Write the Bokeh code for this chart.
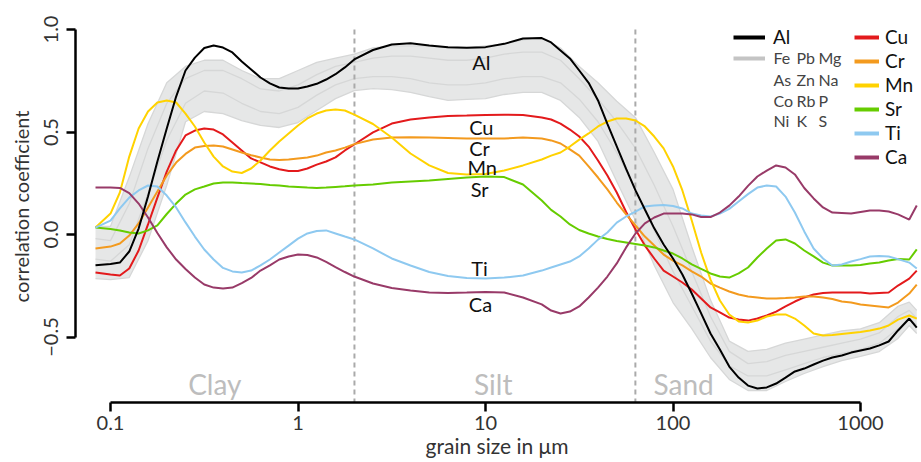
from bokeh.plotting import figure
from bokeh.models import (Range1d, FixedTicker, CustomJSTickFormatter, Legend,
                          LegendItem, Label, ColumnDataSource)
from bokeh.core.properties import value
from bokeh.embed import file_html
from bokeh.resources import INLINE

# ---------------- data ----------------
# log10 of grain size (um) at which the coloured curves were read
log_size = [-1.08, -1.0, -0.95, -0.9, -0.85, -0.8, -0.75, -0.7, -0.65, -0.6,
            -0.55, -0.5, -0.45, -0.4, -0.35, -0.3, -0.25, -0.2, -0.15, -0.1,
            -0.05, 0.0, 0.05, 0.1, 0.15, 0.2, 0.25, 0.3,
            0.4, 0.5, 0.6, 0.7, 0.8, 0.9, 1.0, 1.1, 1.2, 1.3,
            1.35, 1.4, 1.45, 1.5, 1.55, 1.6, 1.65, 1.7, 1.75, 1.8,
            1.85, 1.9, 1.95, 2.0, 2.05, 2.1, 2.15, 2.2, 2.25, 2.3,
            2.35, 2.4, 2.45, 2.5, 2.55, 2.6, 2.65, 2.7, 2.75, 2.8,
            2.85, 2.9, 2.95, 3.0, 3.05, 3.1, 3.15, 3.2, 3.26, 3.3]
grain_um = [10 ** v for v in log_size]

al = [-0.15, -0.144, -0.137, -0.083, 0.029, 0.185, 0.356, 0.517, 0.673, 0.80,
      0.863, 0.91, 0.922, 0.912, 0.888, 0.844, 0.805, 0.766, 0.737, 0.717,
      0.712, 0.712, 0.722, 0.735, 0.756, 0.782, 0.815, 0.854,
      0.90, 0.927, 0.933, 0.922, 0.914, 0.911, 0.914, 0.93, 0.956, 0.958,
      0.937, 0.898, 0.859, 0.80, 0.74, 0.654, 0.54, 0.43, 0.32, 0.215,
      0.122, 0.03, -0.049, -0.117, -0.195, -0.288, -0.385, -0.483, -0.561, -0.644,
      -0.698, -0.737, -0.751, -0.746, -0.727, -0.698, -0.668, -0.654, -0.634, -0.615,
      -0.60, -0.59, -0.576, -0.566, -0.556, -0.541, -0.522, -0.468, -0.41, -0.454]
cu = [-0.185, -0.195, -0.20, -0.166, -0.078, 0.049, 0.18, 0.307, 0.41, 0.483,
      0.507, 0.517, 0.512, 0.488, 0.449, 0.41, 0.371, 0.352, 0.332, 0.318,
      0.31, 0.31, 0.322, 0.341, 0.356, 0.376, 0.41, 0.439,
      0.498, 0.541, 0.561, 0.571, 0.578, 0.58, 0.583, 0.584, 0.583, 0.571,
      0.561, 0.541, 0.512, 0.478, 0.429, 0.361, 0.288, 0.205, 0.11, 0.024,
      -0.054, -0.117, -0.176, -0.205, -0.234, -0.268, -0.312, -0.356, -0.38, -0.405,
      -0.415, -0.42, -0.41, -0.395, -0.376, -0.351, -0.327, -0.307, -0.293, -0.285,
      -0.283, -0.283, -0.283, -0.283, -0.288, -0.285, -0.283, -0.249, -0.215, -0.176]
cr = [-0.068, -0.059, -0.044, -0.005, 0.054, 0.132, 0.21, 0.288, 0.351, 0.393,
      0.424, 0.432, 0.434, 0.429, 0.415, 0.40, 0.387, 0.376, 0.366, 0.363,
      0.366, 0.371, 0.376, 0.385, 0.40, 0.41, 0.424, 0.441,
      0.463, 0.473, 0.475, 0.473, 0.471, 0.468, 0.468, 0.468, 0.473, 0.468,
      0.459, 0.444, 0.415, 0.385, 0.332, 0.278, 0.22, 0.156, 0.098, 0.044,
      -0.01, -0.054, -0.098, -0.127, -0.151, -0.18, -0.205, -0.239, -0.259, -0.278,
      -0.293, -0.302, -0.307, -0.312, -0.312, -0.31, -0.307, -0.302, -0.302, -0.307,
      -0.315, -0.327, -0.332, -0.341, -0.346, -0.351, -0.356, -0.332, -0.288, -0.244]
mn = [0.034, 0.102, 0.205, 0.38, 0.517, 0.60, 0.644, 0.654, 0.644, 0.59,
      0.527, 0.449, 0.38, 0.332, 0.307, 0.30, 0.322, 0.361, 0.41, 0.454,
      0.493, 0.532, 0.566, 0.59, 0.605, 0.61, 0.605, 0.585,
      0.539, 0.473, 0.395, 0.337, 0.30, 0.293, 0.295, 0.312, 0.337, 0.366,
      0.385, 0.40, 0.429, 0.463, 0.493, 0.527, 0.551, 0.566, 0.566, 0.556,
      0.527, 0.478, 0.42, 0.332, 0.215, 0.068, -0.088, -0.22, -0.322, -0.39,
      -0.424, -0.429, -0.42, -0.40, -0.39, -0.39, -0.41, -0.444, -0.483, -0.493,
      -0.49, -0.485, -0.48, -0.476, -0.468, -0.459, -0.444, -0.415, -0.395, -0.41]
sr = [0.034, 0.027, 0.02, 0.01, 0.005, 0.02, 0.044, 0.10, 0.151, 0.195,
      0.22, 0.234, 0.249, 0.254, 0.254, 0.251, 0.249, 0.246, 0.241, 0.239,
      0.234, 0.232, 0.229, 0.227, 0.229, 0.232, 0.235, 0.239,
      0.244, 0.254, 0.259, 0.263, 0.271, 0.278, 0.283, 0.28, 0.244, 0.166,
      0.12, 0.088, 0.049, 0.022, 0.005, -0.01, -0.022, -0.032, -0.039, -0.046,
      -0.054, -0.063, -0.078, -0.093, -0.117, -0.146, -0.168, -0.19, -0.205, -0.21,
      -0.19, -0.161, -0.112, -0.068, -0.029, -0.024, -0.044, -0.078, -0.107, -0.137,
      -0.151, -0.151, -0.151, -0.149, -0.141, -0.137, -0.127, -0.12, -0.122, -0.073]
ti = [0.034, 0.068, 0.127, 0.18, 0.215, 0.239, 0.234, 0.19, 0.132, 0.059,
      -0.01, -0.073, -0.122, -0.163, -0.18, -0.185, -0.176, -0.151, -0.122, -0.088,
      -0.054, -0.02, 0.005, 0.017, 0.02, 0.005, -0.01, -0.024,
      -0.068, -0.117, -0.151, -0.183, -0.202, -0.212, -0.215, -0.21, -0.2, -0.176,
      -0.161, -0.146, -0.132, -0.107, -0.068, -0.025, 0.01, 0.058, 0.088, 0.112,
      0.137, 0.141, 0.144, 0.139, 0.127, 0.102, 0.093, 0.088, 0.102, 0.125,
      0.161, 0.197, 0.229, 0.239, 0.234, 0.185, 0.107, 0.015, -0.068, -0.117,
      -0.151, -0.146, -0.132, -0.12, -0.107, -0.105, -0.107, -0.12, -0.137, -0.166]
ca = [0.229, 0.229, 0.227, 0.202, 0.151, 0.083, 0.007, -0.063, -0.122, -0.168,
      -0.21, -0.244, -0.259, -0.263, -0.259, -0.237, -0.212, -0.176, -0.151, -0.122,
      -0.107, -0.098, -0.10, -0.112, -0.134, -0.159, -0.183, -0.205,
      -0.239, -0.261, -0.273, -0.283, -0.285, -0.283, -0.28, -0.283, -0.307, -0.341,
      -0.371, -0.385, -0.376, -0.351, -0.307, -0.259, -0.205, -0.141, -0.063, 0.005,
      0.054, 0.083, 0.102, 0.102, 0.102, 0.098, 0.085, 0.085, 0.107, 0.141,
      0.185, 0.237, 0.283, 0.312, 0.337, 0.327, 0.293, 0.227, 0.176, 0.132,
      0.107, 0.105, 0.102, 0.11, 0.117, 0.117, 0.112, 0.098, 0.073, 0.141]

# grey group (Fe Pb Mg As Zn Na Co Rb P Ni K S): envelope and two inner curves
band_log = [-1.08, -1.0, -0.9, -0.8, -0.7, -0.6, -0.5, -0.4, -0.3, -0.2, -0.1,
            0.0, 0.1, 0.2, 0.3, 0.4, 0.5, 0.6, 0.7, 0.8, 0.9, 1.0, 1.1, 1.2,
            1.3, 1.4, 1.5, 1.6, 1.7, 1.8, 1.9, 2.0, 2.1, 2.2, 2.3, 2.4, 2.5,
            2.6, 2.7, 2.8, 2.9, 3.0, 3.1, 3.2, 3.26, 3.3]
band_um = [10 ** v for v in band_log]
band_hi = [0.04, 0.04, 0.28, 0.54, 0.74, 0.82, 0.85, 0.85, 0.80, 0.76,
           0.76, 0.80, 0.84, 0.86, 0.88, 0.91, 0.92, 0.92, 0.92, 0.91,
           0.91, 0.92, 0.93, 0.95, 0.96, 0.91, 0.82, 0.74, 0.65, 0.57,
           0.40, 0.22, -0.06, -0.32, -0.52, -0.57, -0.56, -0.53, -0.51, -0.49,
           -0.47, -0.46, -0.43, -0.35, -0.33, -0.37]
band_lo = [-0.215, -0.22, -0.21, -0.03, 0.24, 0.55, 0.60, 0.59, 0.556, 0.532,
           0.522, 0.546, 0.605, 0.663, 0.702, 0.712, 0.707, 0.693, 0.673, 0.654,
           0.659, 0.663, 0.683, 0.693, 0.693, 0.654, 0.571, 0.454, 0.259, 0.068,
           -0.151, -0.332, -0.459, -0.60, -0.707, -0.761, -0.761, -0.717, -0.678, -0.644,
           -0.615, -0.595, -0.571, -0.507, -0.444, -0.483]
grey_a = [-0.02, -0.03, 0.15, 0.42, 0.64, 0.76, 0.80, 0.80, 0.76, 0.71,
          0.70, 0.73, 0.78, 0.82, 0.84, 0.86, 0.87, 0.87, 0.86, 0.85,
          0.85, 0.86, 0.88, 0.89, 0.89, 0.85, 0.76, 0.66, 0.55, 0.42,
          0.24, 0.04, -0.18, -0.40, -0.57, -0.63, -0.62, -0.59, -0.57, -0.55,
          -0.53, -0.51, -0.48, -0.40, -0.37, -0.41]
grey_b = [-0.12, -0.13, -0.05, 0.20, 0.46, 0.64, 0.70, 0.69, 0.64, 0.60,
          0.59, 0.62, 0.68, 0.73, 0.76, 0.77, 0.77, 0.76, 0.74, 0.73,
          0.73, 0.74, 0.76, 0.77, 0.77, 0.74, 0.66, 0.55, 0.40, 0.22,
          0.02, -0.18, -0.35, -0.52, -0.64, -0.69, -0.69, -0.66, -0.63, -0.60,
          -0.58, -0.56, -0.53, -0.46, -0.41, -0.44]

colored_names = ["Cu", "Cr", "Mn", "Sr", "Ti", "Ca"]
colored_values = [cu, cr, mn, sr, ti, ca]
colored_colors = ["#e31a1c", "#f39a1e", "#ffd200", "#66cc00", "#8ec9f0", "#983a68"]

label_names = ["Al", "Cu", "Cr", "Mn", "Sr", "Ti", "Ca"]
label_x = [9.5, 9.5, 9.3, 9.6, 9.3, 9.3, 9.4]
label_y = [0.84, 0.522, 0.42, 0.33, 0.22, -0.165, -0.34]

other_elements = [["Fe", "Pb", "Mg"], ["As", "Zn", "Na"], ["Co", "Rb", "P"], ["Ni", "K", "S"]]

zone_names = ["Clay", "Silt", "Sand"]
zone_x = [0.36, 11.0, 114.0]
zone_bounds = [2.0, 63.0]

x_ticks = [0.1, 1, 10, 100, 1000]
y_ticks = [-0.5, 0.0, 0.5, 1.0]

FONT = "Lato"
TXT = "#333333"
NAN = float("nan")

# ---------------- figure ----------------
p = figure(width=921, height=462, x_axis_type="log",
           x_range=Range1d(10 ** -1.1867, 10 ** 3.3093),
           y_range=Range1d(-0.8195, 1.0927),
           output_backend="svg", toolbar_location=None,
           min_border_left=75, min_border_right=3,
           min_border_top=10, min_border_bottom=60)
p.outline_line_color = None
p.xgrid.visible = False
p.ygrid.visible = False

# grey band and grey lines
p.varea(x=band_um, y1=band_lo, y2=band_hi, fill_color="#e6e7e7", fill_alpha=1.0)
for ys in [band_hi, grey_a, grey_b, band_lo]:
    p.line(band_um, ys, line_color="#d6d7d7", line_width=1.3)

# zone boundaries
p.segment(x0=zone_bounds, x1=zone_bounds, y0=[y_ticks[-1]] * 2, y1=[-0.8195] * 2,
          line_color="#aaaaaa", line_width=2, line_dash="5 4")

# coloured lines
for ys, c in zip(colored_values, colored_colors):
    p.line(grain_um, ys, line_color=c, line_width=2)
p.line(grain_um, al, line_color="black", line_width=2)

# in-plot labels
src = ColumnDataSource(dict(x=label_x, y=label_y, t=label_names))
p.text(x="x", y="y", text="t", source=src, text_font=value(FONT),
       text_font_size="20px", text_color="#111111", text_align="center",
       text_baseline="middle")

# size-class names, sitting just above the x axis
for name, zx in zip(zone_names, zone_x):
    p.add_layout(Label(x=zx, y=19, x_units="data", y_units="screen", text=name,
                       text_font=FONT, text_font_size="28px", text_color="#bdbdbd",
                       text_align="center", text_baseline="alphabetic"))

# axes
xa = p.xaxis[0]
xa.ticker = FixedTicker(ticks=x_ticks)
xa.formatter = CustomJSTickFormatter(code="return tick.toString();")
xa.bounds = (x_ticks[0], x_ticks[-1])
ya = p.yaxis[0]
ya.ticker = FixedTicker(ticks=y_ticks)
ya.formatter = CustomJSTickFormatter(
    code="return tick < 0 ? '\u2212' + Math.abs(tick).toFixed(1) : tick.toFixed(1);")
ya.bounds = (y_ticks[0], y_ticks[-1])
ya.major_label_orientation = "vertical"
xa.axis_label = "grain size in \u03bcm"
ya.axis_label = "correlation coefficient"
for ax in (xa, ya):
    ax.axis_line_width = 2.5
    ax.axis_line_color = "black"
    ax.major_tick_line_width = 2.5
    ax.major_tick_line_color = "black"
    ax.major_tick_out = 9
    ax.major_tick_in = 0
    ax.minor_tick_line_color = None
    ax.major_label_text_font = FONT
    ax.major_label_text_font_size = "20px"
    ax.major_label_text_color = TXT
    ax.axis_label_text_font = FONT
    ax.axis_label_text_font_style = "normal"
    ax.axis_label_text_color = TXT
xa.axis_label_text_font_size = "21px"
ya.axis_label_text_font_size = "20px"
xa.major_label_standoff = 4
xa.axis_label_standoff = 0
ya.major_label_standoff = 8
ya.axis_label_standoff = 9

# legend keys: thicker lines than the plotted curves, as in the original
al_key = p.line([1, 2], [NAN, NAN], line_color="black", line_width=4)
grey_key = p.line([1, 2], [NAN, NAN], line_color="#c4c4c4", line_width=4)
col_keys = [p.line([1, 2], [NAN, NAN], line_color=c, line_width=4)
            for c in colored_colors]

leg1 = Legend(items=[LegendItem(label="Al", renderers=[al_key]),
                     LegendItem(label=" ", renderers=[grey_key])],
              location=(658, 334), orientation="vertical")
leg2 = Legend(items=[LegendItem(label=n, renderers=[r])
                     for n, r in zip(colored_names, col_keys)],
              location=(779, 234), orientation="vertical")
for lg, gw, st, sp in ((leg1, 32, 8, 0), (leg2, 25, 6, 1)):
    lg.glyph_width = gw
    lg.glyph_height = 20
    lg.label_height = 20
    lg.label_standoff = st
    lg.spacing = sp
    lg.padding = 0
    lg.margin = 0
    lg.border_line_color = None
    lg.background_fill_alpha = 0
    lg.label_text_font = FONT
    lg.label_text_font_size = "19px"
    lg.label_text_color = "#111111"
    p.add_layout(lg)

col_sx = [698, 721, 743]
row_sy = [345, 323, 302, 282]
for row, sy in zip(other_elements, row_sy):
    for name, sx in zip(row, col_sx):
        p.add_layout(Label(x=sx, y=sy, x_units="screen", y_units="screen",
                           text=name, text_font=FONT, text_font_size="16px",
                           text_color="#444444", text_baseline="middle"))

open("out.html", "w").write(file_html(p, INLINE))
